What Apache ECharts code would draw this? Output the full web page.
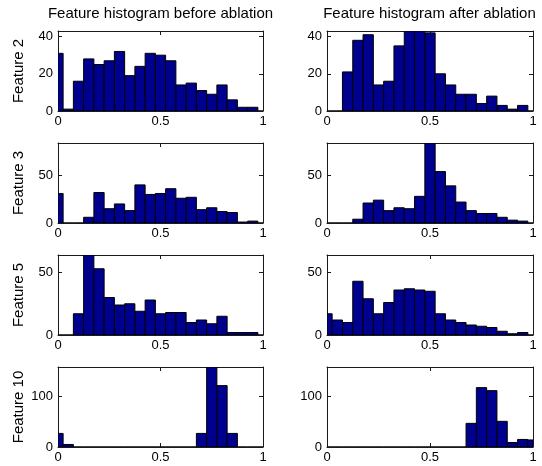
<!DOCTYPE html>
<html>
<head>
<meta charset="utf-8">
<script src="https://cdn.jsdelivr.net/npm/echarts@6/dist/echarts.min.js"></script>
<style>html,body{margin:0;padding:0;background:#fff}#c{width:542px;height:466px}</style>
</head>
<body>
<div id="c"></div>
<script>
const binCenters = [0, 0.05, 0.1, 0.15, 0.2, 0.25, 0.3, 0.35, 0.4, 0.45, 0.5, 0.55, 0.6, 0.65, 0.7, 0.75, 0.8, 0.85, 0.9, 0.95, 1.0];
const binWidth = 0.05;
const rowLabels = ['Feature 2', 'Feature 3', 'Feature 5', 'Feature 10'];
const colTitles = ['Feature histogram before ablation', 'Feature histogram after ablation'];
const f2Before  = [31, 1, 16, 28, 25, 27, 32, 19, 24, 31, 30, 27, 14, 15, 11, 9, 14, 6, 2, 2, 0];
const f2After   = [0, 0, 21, 38, 41, 14, 16, 35, 43, 43, 42, 20, 14, 9, 9, 4, 8, 3, 1, 3, 0];
const f3Before  = [31, 0, 0, 6, 32, 15, 20, 13, 40, 30, 31, 36, 26, 27, 14, 16, 12, 11, 1, 2, 0];
const f3After   = [0, 0, 0, 4, 21, 24, 13, 16, 15, 28, 84, 54, 39, 22, 13, 10, 10, 6, 3, 2, 0];
const f5Before  = [0, 0, 17, 64, 53, 30, 24, 25, 19, 28, 17, 18, 18, 10, 12, 9, 15, 2, 2, 2, 0];
const f5After   = [17, 12, 10, 43, 29, 17, 26, 36, 37, 36, 35, 17, 12, 10, 8, 7, 6, 3, 1, 2, 0];
const f10Before = [27, 5, 0, 0, 0, 0, 0, 0, 0, 0, 0, 0, 0, 0, 27, 159, 122, 27, 0, 0, 0];
const f10After  = [0, 0, 0, 0, 0, 0, 0, 0, 0, 0, 0, 0, 0, 0, 47, 118, 112, 51, 9, 15, 14];
const yMax = [43, 84, 64, 159];
const yInterval = [20, 50, 50, 100];

const panels = [[f2Before, f2After], [f3Before, f3After], [f5Before, f5After], [f10Before, f10After]];

const FONT = 'Liberation Sans, Arial, Helvetica, sans-serif';
const gridTop = [31, 143, 255, 367];
const gridLeft = [58, 327];
const gridW = 205, gridH = 80;

const grid = [], xAxis = [], yAxis = [], series = [];
let gi = 0;
for (let r = 0; r < 4; r++) {
  for (let c = 0; c < 2; c++) {
    grid.push({left: gridLeft[c], top: gridTop[r], width: gridW + (c === 1 ? 1 : 0), height: gridH, show: false});
    const tickStyle = {show: true, inside: true, length: 4, lineStyle: {color: '#1a1a1a', width: 1}};
    const lineStyle = {show: true, onZero: false, lineStyle: {color: '#1a1a1a', width: 1}};
    const xi = xAxis.length;
    xAxis.push({gridIndex: gi, type: 'value', min: 0, max: 1, interval: 0.5, position: 'bottom',
      axisLine: lineStyle, splitLine: {show: false}, axisTick: tickStyle,
      axisLabel: {color: '#000', fontSize: 13, fontFamily: FONT, margin: 4,
        formatter: v => String(+v.toFixed(2))}});
    xAxis.push({gridIndex: gi, type: 'value', min: 0, max: 1, interval: 0.5, position: 'top',
      axisLine: lineStyle, splitLine: {show: false}, axisTick: tickStyle, axisLabel: {show: false}});
    const yi = yAxis.length;
    yAxis.push({gridIndex: gi, type: 'value', min: 0, max: yMax[r], interval: yInterval[r], position: 'left',
      axisLine: lineStyle, splitLine: {show: false}, axisTick: tickStyle,
      axisLabel: {color: '#000', fontSize: 13, fontFamily: FONT, margin: 5, showMaxLabel: false},
      name: c === 0 ? rowLabels[r] : '', nameLocation: 'middle', nameGap: 32,
      nameTextStyle: {color: '#000', fontSize: 15, fontFamily: FONT}});
    yAxis.push({gridIndex: gi, type: 'value', min: 0, max: yMax[r], interval: yInterval[r], position: 'right',
      axisLine: lineStyle, splitLine: {show: false}, axisTick: tickStyle, axisLabel: {show: false}});
    const ym = yMax[r];
    series.push({
      type: 'custom', xAxisIndex: xi, yAxisIndex: yi, clip: true, z: 1,
      data: binCenters.map((b, k) => [b, panels[r][c][k]]),
      renderItem: function (params, api) {
        const ctr = api.value(0), v = Math.min(api.value(1), ym);
        const x0 = Math.max(0, ctr - binWidth / 2), x1 = Math.min(1, ctr + binWidth / 2);
        const p0 = api.coord([x0, 0]);
        const p1 = api.coord([x1, v]);
        return {type: 'rect', shape: {x: p0[0], y: p1[1], width: p1[0] - p0[0], height: p0[1] - p1[1]},
          style: {fill: '#00008F', stroke: '#000', lineWidth: 1}};
      }
    });
    gi++;
  }
}

const title = colTitles.map((t, c) => ({
  text: t, left: gridLeft[c] + gridW / 2, top: 6, padding: 0, textAlign: 'center',
  textStyle: {color: '#000', fontSize: 15, fontWeight: 'normal', fontFamily: FONT}
}));

const chart = echarts.init(document.getElementById('c'), null, {renderer: 'canvas'});
chart.setOption({animation: false, title, grid, xAxis, yAxis, series});
</script>
</body>
</html>
